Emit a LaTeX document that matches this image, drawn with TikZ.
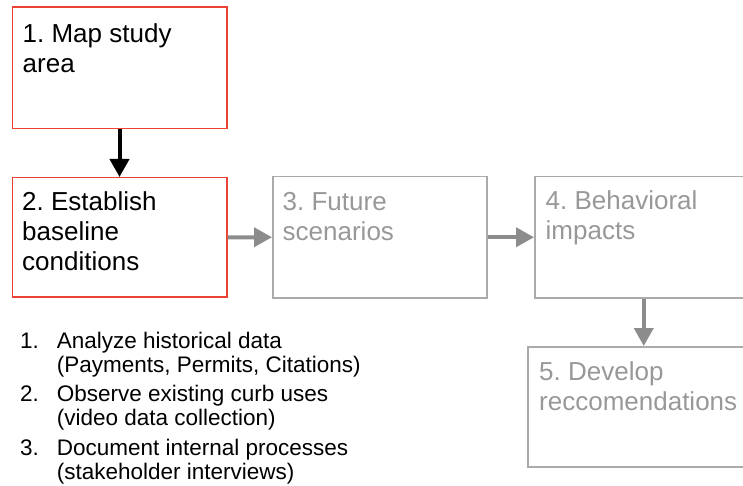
\documentclass[tikz,border=0pt]{standalone}
\usepackage{fontspec}
\setmainfont{Liberation Sans}
\usetikzlibrary{arrows.meta}
\definecolor{stepred}{RGB}{236,66,52}
\definecolor{boxgray}{RGB}{170,170,170}
\definecolor{textgray}{RGB}{152,152,152}
\definecolor{arrowgray}{RGB}{140,140,140}
\frenchspacing

\begin{document}
\begin{tikzpicture}[x=10pt,y=-10pt]
				\tikzstyle{every node}+=[inner sep=0pt]
				\tikzstyle{stepbox}=[draw, line width=1.5pt, anchor=north west]
				\tikzstyle{steptext}=[anchor=base west, align=left, font=\fontsize{26}{30}\selectfont]
				\tikzstyle{listitem}=[anchor=base west, align=left, font=\fontsize{22.5}{24}\selectfont]
				\tikzstyle{flow}=[-{Triangle[length=18pt,width=19pt]}, line width=4pt]
				\path[use as bounding box, clip] (0,0) rectangle (74.3,48.6);
				% boxes
				\node[stepbox, draw=stepred, minimum width=214.5pt, minimum height=121.5pt] (b1) at (1.15,0.65) {};
				\node[stepbox, draw=stepred, minimum width=214.5pt, minimum height=119pt] (b2) at (1.15,17.7) {};
				\node[stepbox, draw=boxgray, minimum width=214pt, minimum height=121pt] (b3) at (27.2,17.6) {};
				\node[stepbox, draw=boxgray, minimum width=218pt, minimum height=121pt] (b4) at (53.4,17.6) {};
				\node[stepbox, draw=boxgray, minimum width=225pt, minimum height=120pt] (b5) at (52.7,34.6) {};
				% box texts (base = last line)
				\node[steptext] (t1) at (2.25,7.27) {1. Map study\\area};
				\node[steptext] (t2) at (2.2,27.07) {2. Establish\\baseline\\conditions};
				\node[steptext, text=textgray] (t3) at (28.25,24.05) {3. Future\\scenarios};
				\node[steptext, text=textgray] (t4) at (54.55,24.0) {4. Behavioral\\impacts};
				\node[steptext, text=textgray] (t5) at (53.9,41.07) {5. Develop\\reccomendations};
				% arrows
				\draw[flow, black] (b1.south) -- (b2.north);
				\draw[flow, arrowgray] (b2.east) -- (b3.west);
				\draw[flow, arrowgray] (b3.east) -- (b4.west);
				\draw[flow, arrowgray] (b4.south) -- (b4.south |- b5.north);
				% list under box 2
				\node[listitem] (l1) at (2.0,37.23) {\makebox[36.7pt][l]{1.}Analyze historical data\\\hspace*{36.7pt}(Payments, Permits, Citations)};
				\node[listitem] (l2) at (2.0,42.57) {\makebox[36.7pt][l]{2.}Observe existing curb uses\\\hspace*{36.7pt}(video data collection)};
				\node[listitem] (l3) at (2.0,47.9) {\makebox[36.7pt][l]{3.}Document internal processes\\\hspace*{36.7pt}(stakeholder interviews)};
\end{tikzpicture}
\end{document}
